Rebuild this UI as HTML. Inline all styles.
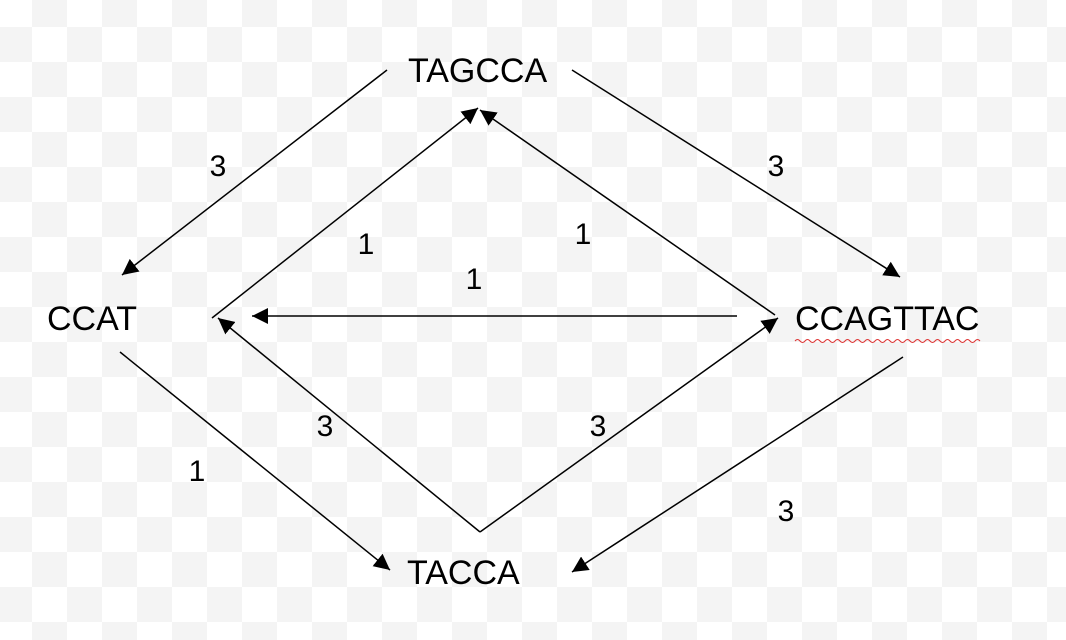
<!DOCTYPE html>
<html><head><meta charset="utf-8"><style>
html,body{margin:0;padding:0;width:1066px;height:640px;overflow:hidden}
svg{display:block;font-family:"Liberation Sans",Arial,sans-serif}
</style></head><body>
<svg width="1066" height="640" viewBox="0 0 1066 640">
<defs>
<pattern id="chk" x="-3" y="-8" width="70" height="70" patternUnits="userSpaceOnUse">
<rect width="70" height="70" fill="#fff"/>
<rect x="35" y="0" width="35" height="35" fill="#f4f4f4"/>
<rect x="0" y="35" width="35" height="35" fill="#f4f4f4"/>
</pattern>
<marker id="ah" viewBox="0 0 10 10" refX="10" refY="5" markerWidth="16" markerHeight="16" markerUnits="userSpaceOnUse" orient="auto">
<path d="M0,0 L10,5 L0,10 z" fill="#000"/>
</marker>
</defs>
<rect width="1066" height="640" fill="url(#chk)"/>
<g stroke="#000" stroke-width="1.5" fill="none" marker-end="url(#ah)">
<line x1="387" y1="70" x2="122" y2="275"/>
<line x1="572" y1="70" x2="900" y2="277"/>
<line x1="212" y1="318" x2="478" y2="108"/>
<line x1="775" y1="315" x2="480" y2="110"/>
<line x1="737" y1="316" x2="252" y2="316"/>
<line x1="120" y1="352" x2="390" y2="570"/>
<line x1="480" y1="532" x2="218" y2="318"/>
<line x1="480" y1="532" x2="778" y2="318"/>
<line x1="903" y1="357" x2="572" y2="572"/>
</g>
<g font-size="34" fill="#000">
<text x="408" y="82">TAGCCA</text>
<text x="47" y="330">CCAT</text>
<text x="795" y="330">CCAGTTAC</text>
<text x="407" y="584">TACCA</text>
</g>
<path d="M795,341 q2.5,-3 5,0 t5,0 t5,0 t5,0 t5,0 t5,0 t5,0 t5,0 t5,0 t5,0 t5,0 t5,0 t5,0 t5,0 t5,0 t5,0 t5,0 t5,0 t5,0 t5,0 t5,0 t5,0 t5,0 t5,0 t5,0 t5,0 t5,0 t5,0 t5,0 t5,0 t5,0 t5,0 t5,0 t5,0 t5,0 t5,0 t5,0" stroke="#d33" stroke-width="1" fill="none"/>
<g font-size="30" fill="#000" text-anchor="middle">
<text x="218" y="176">3</text>
<text x="776" y="176">3</text>
<text x="366" y="254">1</text>
<text x="583" y="244">1</text>
<text x="474" y="289">1</text>
<text x="325" y="436">3</text>
<text x="598" y="436">3</text>
<text x="197" y="481">1</text>
<text x="786" y="521">3</text>
</g>
</svg>
</body></html>
